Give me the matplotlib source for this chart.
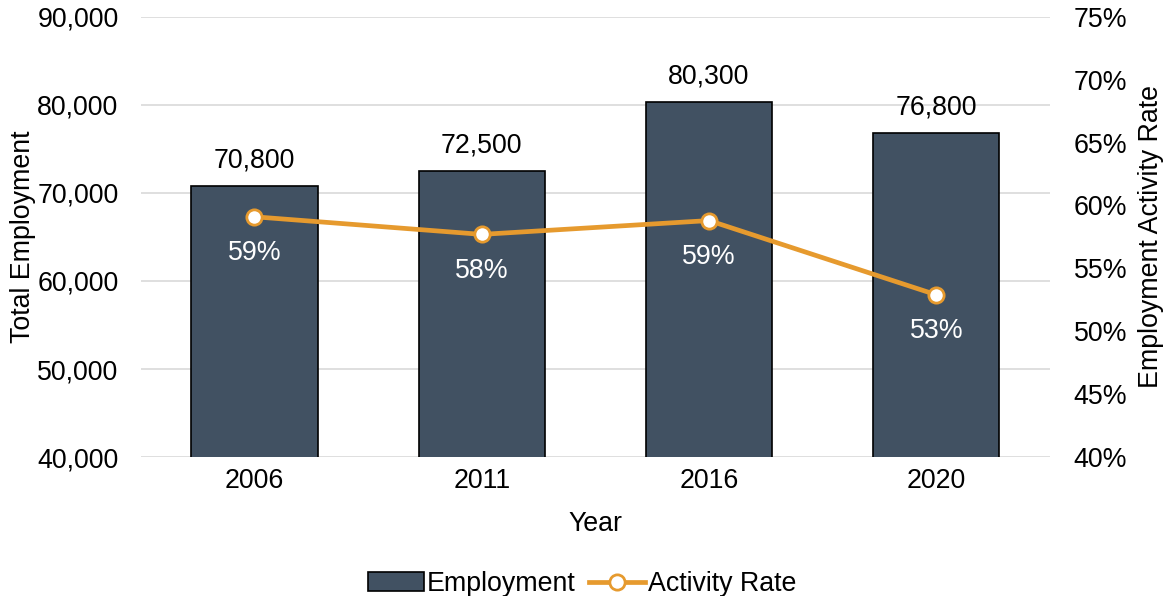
import matplotlib.pyplot as plt
from matplotlib.ticker import FuncFormatter

plt.rcParams['font.family'] = ['Liberation Sans', 'DejaVu Sans']

years = ['2006', '2011', '2016', '2020']
employment = [70800, 72500, 80300, 76800]
activity_rate = [59.1, 57.7, 58.8, 52.9]

bar_color = '#415162'
line_color = '#E69A2E'
fs = 19.3

fig, ax = plt.subplots(figsize=(11.64, 5.96), dpi=100)
fig.subplots_adjust(left=0.121, right=0.902, top=0.972, bottom=0.233)

x = range(len(years))
bars = ax.bar(x, employment, width=0.555, color=bar_color, edgecolor='black',
              linewidth=1.2, zorder=2, label='Employment')
for xi, v in zip(x, employment):
    ax.annotate(f'{v:,}', (xi, v), xytext=(0, 9), textcoords='offset points',
                ha='center', va='bottom', fontsize=fs)

ax.set_ylim(40000, 90000)
ax.set_yticks(range(40000, 90001, 10000))
ax.yaxis.set_major_formatter(FuncFormatter(lambda v, p: f'{int(v):,}'))
ax.set_xlim(-0.5, 3.5)
ax.set_xticks(list(x))
ax.set_xticklabels(years)
ax.grid(axis='y', color='#d9d9d9', linewidth=1.2, zorder=0)
ax.set_axisbelow(True)
ax.set_ylabel('Total Employment', fontsize=fs, labelpad=1)
ax.set_xlabel('Year', fontsize=fs, labelpad=12)
ax.tick_params(axis='y', labelsize=fs, length=0, pad=16)
ax.tick_params(axis='x', labelsize=fs, length=0, pad=8)
for s in ax.spines.values():
    s.set_visible(False)

ax2 = ax.twinx()
line, = ax2.plot(list(x), activity_rate, color=line_color, linewidth=3.4,
                 marker='o', markersize=11, markerfacecolor='white',
                 markeredgecolor=line_color, markeredgewidth=2,
                 zorder=3, label='Activity Rate')
for xi, v in zip(x, activity_rate):
    ax2.annotate(f'{round(v)}%', (xi, v), xytext=(0, -17), textcoords='offset points',
                 ha='center', va='top', fontsize=fs, color='white')
ax2.set_ylim(40, 75)
ax2.set_yticks(range(40, 76, 5))
ax2.yaxis.set_major_formatter(FuncFormatter(lambda v, p: f'{int(v)}%'))
ax2.set_ylabel('Employment Activity Rate', fontsize=fs, labelpad=8)
ax2.tick_params(labelsize=fs, length=0, pad=17)
for s in ax2.spines.values():
    s.set_visible(False)

fig.legend(handles=[bars, line], loc='lower center', ncol=2, frameon=False,
           fontsize=fs, bbox_to_anchor=(0.5, -0.042), handlelength=2.1,
           handletextpad=0.1, columnspacing=0.5)

fig.savefig('out.png', dpi=100)
